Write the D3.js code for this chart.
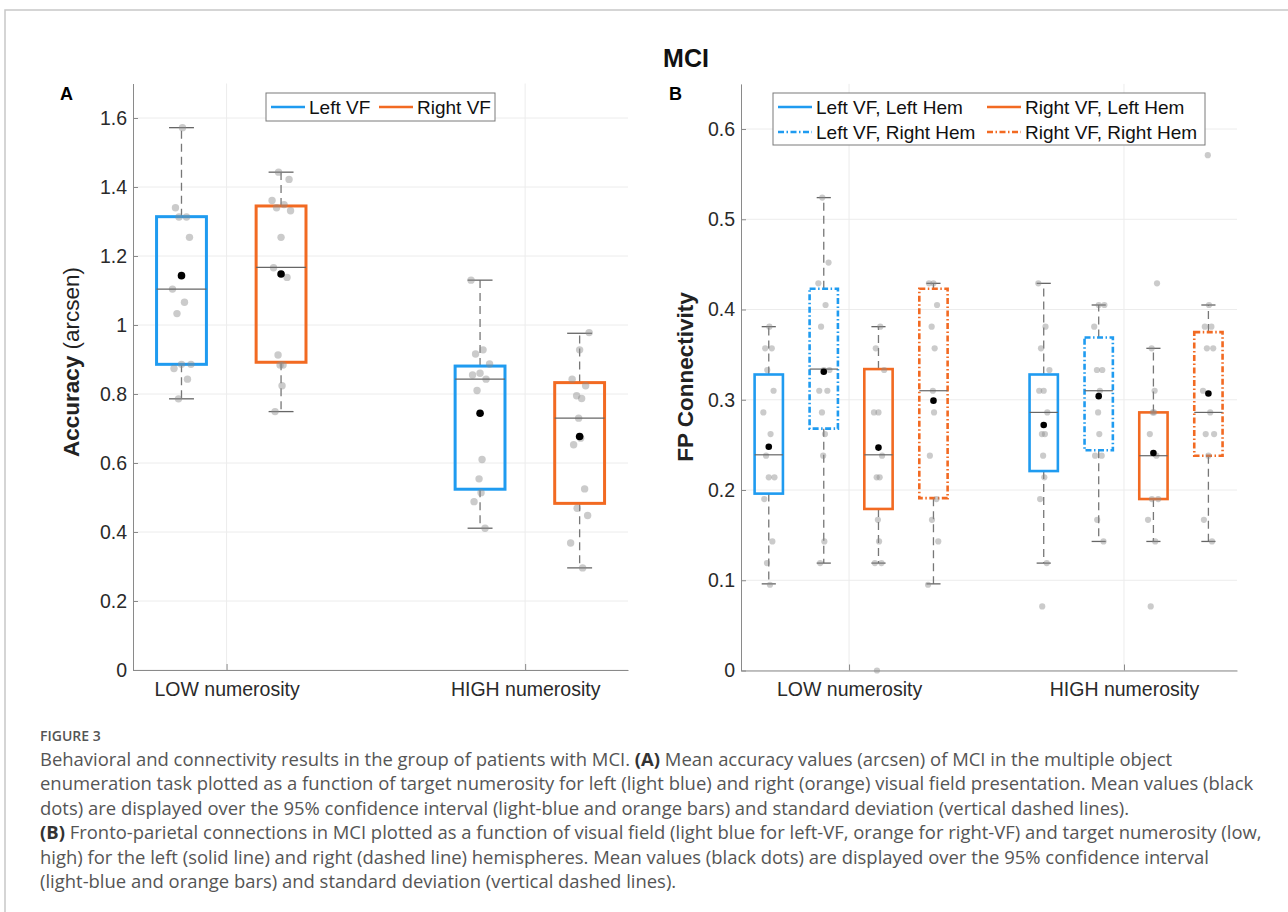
<!DOCTYPE html>
<html><head><meta charset="utf-8">
<script src="https://cdn.jsdelivr.net/npm/d3@7"></script>
<style>body{margin:0;background:#fff}</style>
</head><body>
<svg id="fig" width="1288" height="912"></svg>
<script>
// ---------------- DATA ----------------
const numerosity = ["LOW numerosity", "HIGH numerosity"];

// Panel A: rows = Left VF, Right VF ; cols = LOW, HIGH
const accSeries = ["Left VF", "Right VF"];
const accTicks = [0, 0.2, 0.4, 0.6, 0.8, 1, 1.2, 1.4, 1.6];
const accCiLo    = [[0.886, 0.524], [0.892, 0.483]];
const accCiHi    = [[1.314, 0.881], [1.345, 0.833]];
const accMedian  = [[1.104, 0.843], [1.167, 0.730]];
const accMean    = [[1.143, 0.744], [1.148, 0.677]];
const accWhiskLo = [[0.786, 0.411], [0.749, 0.296]];
const accWhiskHi = [[1.572, 1.130], [1.443, 0.976]];
const accPoints = [
  [[1.572, 1.340, 1.313, 1.313, 1.254, 1.104, 1.066, 1.033, 0.886, 0.886, 0.874, 0.843, 0.786],
   [1.130, 0.928, 0.916, 0.887, 0.860, 0.855, 0.843, 0.810, 0.610, 0.554, 0.514, 0.488, 0.411]],
  [[1.443, 1.422, 1.361, 1.349, 1.340, 1.331, 1.254, 1.166, 1.138, 0.913, 0.884, 0.884, 0.824, 0.749],
   [0.978, 0.928, 0.843, 0.824, 0.795, 0.787, 0.730, 0.672, 0.653, 0.525, 0.469, 0.448, 0.368, 0.296]]
];

// Panel B: rows = LeftVF/LeftHem, LeftVF/RightHem, RightVF/LeftHem, RightVF/RightHem ; cols = LOW, HIGH
const fpSeries = ["Left VF, Left Hem", "Left VF, Right Hem", "Right VF, Left Hem", "Right VF, Right Hem"];
const fpTicks = [0, 0.1, 0.2, 0.3, 0.4, 0.5, 0.6];
const fpCiLo    = [[0.196, 0.221], [0.268, 0.244], [0.179, 0.190], [0.191, 0.238]];
const fpCiHi    = [[0.328, 0.328], [0.423, 0.369], [0.334, 0.286], [0.423, 0.375]];
const fpMedian  = [[0.239, 0.286], [0.334, 0.310], [0.239, 0.238], [0.310, 0.286]];
const fpMean    = [[0.248, 0.272], [0.331, 0.304], [0.247, 0.241], [0.299, 0.307]];
const fpWhiskLo = [[0.096, 0.119], [0.119, 0.143], [0.119, 0.143], [0.096, 0.143]];
const fpWhiskHi = [[0.381, 0.429], [0.524, 0.405], [0.381, 0.357], [0.429, 0.405]];
const fpPoints = [
  [[0.381, 0.357, 0.357, 0.333, 0.310, 0.286, 0.262, 0.238, 0.214, 0.214, 0.190, 0.143, 0.119, 0.095],
   [0.429, 0.381, 0.357, 0.333, 0.310, 0.310, 0.286, 0.262, 0.262, 0.238, 0.214, 0.190, 0.119, 0.071]],
  [[0.524, 0.452, 0.429, 0.405, 0.381, 0.333, 0.333, 0.310, 0.310, 0.286, 0.262, 0.238, 0.143, 0.119],
   [0.405, 0.405, 0.381, 0.333, 0.333, 0.310, 0.286, 0.262, 0.238, 0.238, 0.167, 0.143]],
  [[0.381, 0.357, 0.333, 0.286, 0.286, 0.238, 0.214, 0.214, 0.167, 0.143, 0.119, 0.119, 0.000],
   [0.429, 0.357, 0.310, 0.286, 0.286, 0.262, 0.238, 0.190, 0.190, 0.167, 0.143, 0.071]],
  [[0.429, 0.429, 0.405, 0.381, 0.357, 0.310, 0.286, 0.238, 0.190, 0.167, 0.143, 0.095],
   [0.571, 0.405, 0.381, 0.381, 0.357, 0.357, 0.310, 0.286, 0.262, 0.262, 0.238, 0.167, 0.143]]
];

const captionLines = [
  [["Behavioral and connectivity results in the group of patients with MCI. ", 0], ["(A)", 1], [" Mean accuracy values (arcsen) of MCI in the multiple object", 0]],
  [["enumeration task plotted as a function of target numerosity for left (light blue) and right (orange) visual field presentation. Mean values (black", 0]],
  [["dots) are displayed over the 95% confidence interval (light-blue and orange bars) and standard deviation (vertical dashed lines).", 0]],
  [["(B)", 1], [" Fronto-parietal connections in MCI plotted as a function of visual field (light blue for left-VF, orange for right-VF) and target numerosity (low,", 0]],
  [["high) for the left (solid line) and right (dashed line) hemispheres. Mean values (black dots) are displayed over the 95% confidence interval", 0]],
  [["(light-blue and orange bars) and standard deviation (vertical dashed lines).", 0]]
];

// ---------------- STYLE / LAYOUT ----------------
const BLUE = "#1F9BF0", ORANGE = "#F26A22";
const FONT = "'Liberation Sans', Arial, Helvetica, sans-serif";
const DASHDOT = "6,2.5,1.5,2.5";
const jitterPattern = [0.1, -0.6, 0.5, -0.25, 0.8, -0.9, 0.3, -0.45, 0.95, 0.0, -0.75, 0.6, -0.3, 0.2, -0.1];

const svg = d3.select("#fig");
svg.append("path").attr("d", "M5,912 V10 H1288").attr("fill", "none")
  .attr("stroke", "#c8c8c8").attr("stroke-width", 1.5);

svg.append("text").attr("x", 686).attr("y", 67).attr("text-anchor", "middle")
  .attr("font-family", FONT).attr("font-weight", "bold").attr("font-size", 25)
  .attr("fill", "#111").text("MCI");

function drawPanel(cfg) {
  const g = svg.append("g");
  const x = cfg.x, y = cfg.y;
  const [x0, x1] = x.range();
  const [yb, yt] = y.range();
  // grid
  g.selectAll(".hg").data(cfg.ticks).join("line")
    .attr("x1", x0).attr("x2", x1).attr("y1", d => y(d)).attr("y2", d => y(d))
    .attr("stroke", "#ececec").attr("stroke-width", 1);
  g.selectAll(".vg").data([1, 2]).join("line")
    .attr("x1", d => x(d)).attr("x2", d => x(d)).attr("y1", yb).attr("y2", yt)
    .attr("stroke", "#ececec").attr("stroke-width", 1);

  // axes
  const ya = g.append("g").attr("transform", `translate(${x0},0)`)
    .call(d3.axisLeft(y).tickValues(cfg.ticks).tickFormat(d3.format("~g"))
      .tickSize(-5).tickSizeOuter(0).tickPadding(6));
  const xa = g.append("g").attr("transform", `translate(0,${yb})`)
    .call(d3.axisBottom(x).tickValues([1, 2]).tickFormat(d => numerosity[d - 1])
      .tickSize(-6).tickSizeOuter(0).tickPadding(12));
  [ya, xa].forEach(a => {
    a.selectAll("path,line").attr("stroke", "#8a8a8a");
    a.selectAll("text").attr("font-family", FONT).attr("font-size", 19.5).attr("fill", "#2a2a2a");
  });

  // boxes
  const n = cfg.series.length;
  for (let s = 0; s < n; s++) {
    for (let k = 0; k < 2; k++) {
      const cx = x(k + 1 + cfg.offsets[s]);
      const hw = (x(cfg.boxW) - x(0)) / 2;
      const col = cfg.colors[s];
      const dash = cfg.dashes[s];
      const lo = cfg.ciLo[s][k], hi = cfg.ciHi[s][k];
      // whiskers
      const wl = cfg.wLo[s][k], wh = cfg.wHi[s][k];
      if (wh > hi) g.append("line").attr("x1", cx).attr("x2", cx).attr("y1", y(hi)).attr("y2", y(wh))
        .attr("stroke", "#777").attr("stroke-width", 1.3).attr("stroke-dasharray", "8,5");
      if (wl < lo) g.append("line").attr("x1", cx).attr("x2", cx).attr("y1", y(lo)).attr("y2", y(wl))
        .attr("stroke", "#777").attr("stroke-width", 1.3).attr("stroke-dasharray", "8,5");
      [wl, wh].forEach(v => g.append("line").attr("x1", cx - hw / 2).attr("x2", cx + hw / 2)
        .attr("y1", y(v)).attr("y2", y(v)).attr("stroke", "#666").attr("stroke-width", 1.3));
      // box
      g.append("rect").attr("x", cx - hw).attr("width", 2 * hw)
        .attr("y", y(hi)).attr("height", y(lo) - y(hi))
        .attr("fill", "none").attr("stroke", col).attr("stroke-width", cfg.boxSW)
        .attr("stroke-dasharray", dash);
      // points
      g.selectAll(null).data(cfg.points[s][k]).join("circle")
        .attr("cx", (d, i) => cx + jitterPattern[(i + s * 3 + k * 5) % jitterPattern.length] * cfg.jitter)
        .attr("cy", d => y(d)).attr("r", cfg.ptR)
        .attr("fill", "#8c8c8c").attr("fill-opacity", 0.45);
      // median
      g.append("line").attr("x1", cx - hw).attr("x2", cx + hw)
        .attr("y1", y(cfg.median[s][k])).attr("y2", y(cfg.median[s][k]))
        .attr("stroke", "#666").attr("stroke-width", 1.2);
      // mean
      g.append("circle").attr("cx", cx).attr("cy", y(cfg.mean[s][k])).attr("r", cfg.meanR).attr("fill", "#000");
    }
  }

  // y label
  const yl = g.append("text").attr("transform", `translate(${cfg.ylabX},${cfg.ylabY}) rotate(-90)`)
    .attr("text-anchor", "middle").attr("font-family", FONT).attr("font-size", 22.5).attr("fill", "#222");
  cfg.ylabel.forEach(([t, b]) => yl.append("tspan").attr("font-weight", b ? "bold" : "normal").text(t));

  // panel letter
  g.append("text").attr("x", cfg.letterX).attr("y", 100).attr("font-family", FONT)
    .attr("font-weight", "bold").attr("font-size", 18).attr("fill", "#000").text(cfg.letter);
  return g;
}

// Panel A
const xA = d3.scaleLinear().domain([0.6866, 2.3445]).range([133, 628]);
const yA = d3.scaleLinear().domain([0, 1.7]).range([670, 83.5]);
drawPanel({
  x: xA, y: yA, ticks: accTicks, series: accSeries,
  offsets: [-0.151, 0.1825], boxW: 0.167, colors: [BLUE, ORANGE], dashes: [null, null],
  ciLo: accCiLo, ciHi: accCiHi, median: accMedian, mean: accMean,
  wLo: accWhiskLo, wHi: accWhiskHi, points: accPoints,
  boxSW: 3, ptR: 3.7, meanR: 3.8, jitter: 10,
  ylabel: [["Accuracy", 1], [" (arcsen)", 0]], ylabX: 79, ylabY: 362, letter: "A", letterX: 60
});

// Panel B
const xB = d3.scaleLinear().domain([0.607, 2.411]).range([741, 1237]);
const yB = d3.scaleLinear().domain([0, 0.65]).range([670.5, 83.9]);
drawPanel({
  x: xB, y: yB, ticks: fpTicks, series: fpSeries,
  offsets: [-0.292, -0.092, 0.107, 0.307], boxW: 0.103,
  colors: [BLUE, BLUE, ORANGE, ORANGE], dashes: [null, DASHDOT, null, DASHDOT],
  ciLo: fpCiLo, ciHi: fpCiHi, median: fpMedian, mean: fpMean,
  wLo: fpWhiskLo, wHi: fpWhiskHi, points: fpPoints,
  boxSW: 2.6, ptR: 3.1, meanR: 3.3, jitter: 6,
  ylabel: [["FP Connectivity", 1]], ylabX: 693, ylabY: 377, letter: "B", letterX: 669
});

// Legends
function legend(x, y, w, h, items) {
  const g = svg.append("g");
  g.append("rect").attr("x", x).attr("y", y).attr("width", w).attr("height", h)
    .attr("fill", "#fff").attr("stroke", "#7a7a7a").attr("stroke-width", 1);
  items.forEach(it => {
    g.append("line").attr("x1", it.lx).attr("x2", it.lx + 34).attr("y1", it.y).attr("y2", it.y)
      .attr("stroke", it.color).attr("stroke-width", 2.6).attr("stroke-dasharray", it.dash);
    g.append("text").attr("x", it.lx + 38).attr("y", it.y).attr("dy", "0.36em")
      .attr("font-family", FONT).attr("font-size", 19).attr("fill", "#111").text(it.label);
  });
}
legend(266, 93, 229, 28, [
  { lx: 271, y: 107, color: BLUE, dash: null, label: accSeries[0] },
  { lx: 379, y: 107, color: ORANGE, dash: null, label: accSeries[1] }
]);
legend(773, 93, 432, 52, [
  { lx: 778, y: 107, color: BLUE, dash: null, label: fpSeries[0] },
  { lx: 778, y: 132, color: BLUE, dash: DASHDOT, label: fpSeries[1] },
  { lx: 987, y: 107, color: ORANGE, dash: null, label: fpSeries[2] },
  { lx: 987, y: 132, color: ORANGE, dash: DASHDOT, label: fpSeries[3] }
]);

// Caption
const CAPFONT = "'Open Sans', 'Noto Sans', sans-serif";
svg.append("text").attr("x", 40).attr("y", 741).attr("font-family", CAPFONT)
  .attr("font-size", 14).attr("font-weight", 600).attr("fill", "#555").text("FIGURE 3");
const capG = svg.append("g");
const lineTexts = captionLines.map((parts, i) => {
  const t = capG.append("text").attr("x", 40).attr("y", 766 + i * 24.4)
    .attr("font-family", CAPFONT).attr("font-size", 16).attr("fill", "#555");
  parts.forEach(([s, b]) => t.append("tspan").attr("font-weight", b ? 700 : 400)
    .attr("fill", b ? "#333" : "#555").text(s));
  return t;
});
const w4 = lineTexts[3].node().getComputedTextLength();
const fs = 16 * 1222 / w4;
lineTexts.forEach(t => t.attr("font-size", fs));
</script>
</body></html>
